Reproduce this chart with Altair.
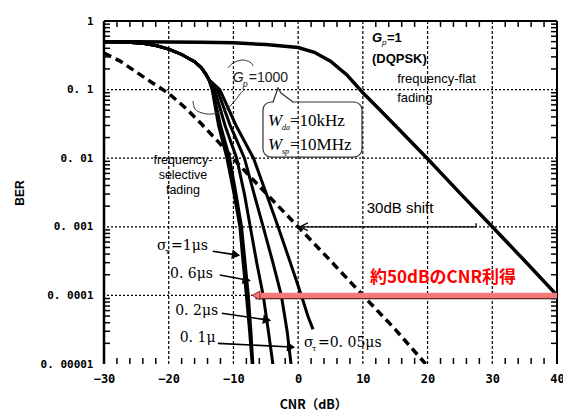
import altair as alt
import pandas as pd

# ---------------- data ----------------
# G_p = 1, frequency-flat fading (DQPSK)
flat_cnr = [-30, -25, -20, -15, -10, -5, 0, 2.5, 5, 7.5, 10, 12.5, 15, 20, 25, 30, 35, 40]
flat_ber = [0.5, 0.5, 0.495, 0.49, 0.48, 0.455, 0.41, 0.35, 0.26, 0.165, 0.09, 0.052, 0.03,
            0.0098, 0.0031, 0.001, 0.00032, 0.0001]

# G_p = 1000, frequency-flat fading (30 dB shifted, dashed)
shift_cnr = [-30, -27.5, -25, -22.5, -20, -17.5, -15, -12.5, -10, -5, 0, 5, 10, 15, 19.7]
shift_ber = [0.34, 0.26, 0.18, 0.125, 0.088, 0.055, 0.032, 0.018, 0.0098, 0.0031, 0.001,
             0.00032, 0.0001, 0.000032, 0.00001]

# G_p = 1000, frequency-selective fading: common upper part
shared_cnr = [-30, -27, -24, -22, -20, -18, -16, -15, -14.3, -13.8]
shared_ber = [0.5, 0.495, 0.475, 0.44, 0.39, 0.325, 0.255, 0.21, 0.17, 0.14]

sel_names = ["1μs", "0.6μs", "0.2μs", "0.1μs", "0.05μs"]
s1_cnr = [-13.3, -12.3, -11.0, -9.9, -9.0, -8.5, -8.0, -7.5, -7.1]
s1_ber = [0.1, 0.03, 0.01, 0.003, 0.001, 0.0003, 0.0001, 0.00003, 0.00001]
s2_cnr = [-13.2, -12.0, -10.6, -9.6, -8.75, -8.2, -7.7, -7.3, -7.0]
s2_ber = [0.1, 0.03, 0.01, 0.003, 0.001, 0.0003, 0.0001, 0.00003, 0.00001]
s3_cnr = [-12.9, -11.3, -9.5, -8.3, -7.4, -6.4, -5.4, -4.6, -3.9]
s3_ber = [0.1, 0.03, 0.01, 0.003, 0.001, 0.0003, 0.0001, 0.00003, 0.00001]
s4_cnr = [-12.5, -10.5, -8.3, -6.8, -5.4, -3.9, -2.6, -1.7, -1.1]
s4_ber = [0.1, 0.03, 0.01, 0.003, 0.001, 0.0003, 0.0001, 0.00003, 0.00001]
s5_cnr = [-12.1, -9.6, -6.9, -4.9, -3.1, -1.2, 0.5, 1.5, 2.3]
s5_ber = [0.1, 0.03, 0.01, 0.003, 0.001, 0.0003, 0.0001, 0.00005, 0.000032]

x_ticks = [-30, -20, -10, 0, 10, 20, 30, 40]
y_ticks = [1, 0.1, 0.01, 0.001, 0.0001, 0.00001]
y_tick_labels = ["1", "0. 1", "0. 01", "0. 001", "0. 0001", "0. 00001"]
x_grid = [-20, -10, 0, 10, 20, 30]
y_grid = [0.1, 0.01, 0.001, 0.0001]
x_minor = [v for v in range(-28, 40, 2) if v % 10 != 0]
y_minor = [m * 10.0 ** e for e in range(-5, 0) for m in range(2, 10)]

# ---------------- layout / style ----------------
W, H = 453, 343
SANS = "Liberation Sans"
SERIF = "DejaVu Serif"
TIMES = "Liberation Serif"
MONO = "DejaVu Sans Mono"
CJK = "Noto Sans CJK JP"

XS = alt.Scale(domain=[-30, 40], nice=False, zero=False)
YS = alt.Scale(type="log", domain=[0.00001, 1], nice=False)

label_expr = "[" + ",".join(f"'{s}'" for s in y_tick_labels) + "][round(-log(datum.value)/LN10)]"
XAXIS = alt.Axis(values=x_ticks, grid=False, ticks=False, domain=False, labelFlush=False,
                 labelFont=MONO, labelFontWeight="bold", labelFontSize=12, labelPadding=9,
                 labelColor="black", title="CNR（dB）", titleFont=CJK, titleFontWeight="bold",
                 titleFontSize=12.5, titleX=209, titleY=40, titleBaseline="middle", titleColor="black")
YAXIS = alt.Axis(values=y_ticks, grid=False, ticks=False, domain=False, labelFlush=False,
                 labelExpr=label_expr, labelFont=MONO, labelFontWeight="bold", labelFontSize=11,
                 labelPadding=11, labelColor="black", title="BER", titleFont=SANS,
                 titleFontWeight="bold", titleFontSize=12, titlePadding=14, titleColor="black")


def xe(f="x"):
    return alt.X(f"{f}:Q", scale=XS, axis=XAXIS, title="CNR（dB）")


def ye(f="y"):
    return alt.Y(f"{f}:Q", scale=YS, axis=YAXIS, title="BER")


def one(x, y, **extra):
    d = {"x": [x], "y": [y]}
    d.update({k: [v] for k, v in extra.items()})
    return pd.DataFrame(d)


def text(x, y, s, **kw):
    return alt.Chart(one(x, y, t=s)).mark_text(**kw).encode(x=xe(), y=ye(), text="t:N")


def path(xs, ys, **kw):
    df = pd.DataFrame({"x": xs, "y": ys, "i": list(range(len(xs)))})
    return alt.Chart(df).mark_line(**kw).encode(x=xe(), y=ye(), order="i:Q")


layers = []

# grid
layers.append(alt.Chart(pd.DataFrame({"x": x_grid})).mark_rule(
    color="black", strokeWidth=1.2, strokeDash=[3, 2]).encode(x=xe()))
layers.append(alt.Chart(pd.DataFrame({"y": y_grid})).mark_rule(
    color="black", strokeWidth=1.2, strokeDash=[2, 2]).encode(y=ye()))

# minor ticks (inward)
xm = pd.DataFrame({"x": x_minor})
layers.append(alt.Chart(xm).mark_rule(color="black", strokeWidth=1.5).encode(
    x=xe(), y=alt.value(H), y2=alt.value(H - 6)))
layers.append(alt.Chart(xm).mark_rule(color="black", strokeWidth=1.5).encode(
    x=xe(), y=alt.value(0), y2=alt.value(6)))
ym = pd.DataFrame({"y": y_minor})
layers.append(alt.Chart(ym).mark_rule(color="black", strokeWidth=1.5).encode(
    y=ye(), x=alt.value(0), x2=alt.value(6)))
layers.append(alt.Chart(ym).mark_rule(color="black", strokeWidth=1.5).encode(
    y=ye(), x=alt.value(W), x2=alt.value(W - 6)))

# frame (left, top, right)
frame = pd.DataFrame({"k": [0]})
layers.append(alt.Chart(frame).mark_rule(color="black", strokeWidth=2.5).encode(
    x=alt.value(0), y=alt.value(0), y2=alt.value(H)))
layers.append(alt.Chart(frame).mark_rule(color="black", strokeWidth=2).encode(
    y=alt.value(0), x=alt.value(0), x2=alt.value(W)))
layers.append(alt.Chart(frame).mark_rule(color="black", strokeWidth=2).encode(
    x=alt.value(W), y=alt.value(0), y2=alt.value(H)))

# curves
layers.append(path(flat_cnr, flat_ber, color="black", strokeWidth=3.5, clip=True))
layers.append(path(shift_cnr, shift_ber, color="black", strokeWidth=3.5, strokeDash=[8, 5], clip=True))

rows = []
for name, cx, cy in zip(sel_names, [s1_cnr, s2_cnr, s3_cnr, s4_cnr, s5_cnr],
                        [s1_ber, s2_ber, s3_ber, s4_ber, s5_ber]):
    xs = shared_cnr + cx
    ys = shared_ber + cy
    for i, (a, b) in enumerate(zip(xs, ys)):
        rows.append({"s": name, "x": a, "y": b, "i": i})
sel = pd.DataFrame(rows)
layers.append(alt.Chart(sel).mark_line(color="black", strokeWidth=3, clip=True).encode(
    x=xe(), y=ye(), detail="s:N", order="i:Q"))

# ---------------- annotations ----------------
# G_p = 1 (DQPSK) / frequency-flat fading
layers.append(text(11.4, 0.565, "G", font=SANS, fontSize=13, fontWeight="bold", fontStyle="italic",
                   align="left", baseline="middle", color="black"))
layers.append(text(11.4, 0.565, "p", font=SANS, fontSize=8, fontStyle="italic", align="left",
                   baseline="middle", dx=10, dy=5, color="black"))
layers.append(text(11.4, 0.565, "=1", font=SANS, fontSize=13, fontWeight="bold", align="left",
                   baseline="middle", dx=15, color="black"))
layers.append(text(11.4, 0.28, "(DQPSK)", font=SANS, fontSize=13, fontWeight="bold", align="left",
                   baseline="middle", color="black"))
layers.append(text(15.3, 0.143, "frequency-flat", font=SANS, fontSize=13, align="left",
                   baseline="middle", color="black"))
layers.append(text(15.3, 0.0755, "fading", font=SANS, fontSize=13, align="left",
                   baseline="middle", color="black"))

# G_p = 1000 callout
layers.append(text(-10.1, 0.148, "G", font=SANS, fontSize=14, fontStyle="italic", align="left",
                   baseline="middle", color="#222"))
layers.append(text(-10.1, 0.148, "p", font=SANS, fontSize=9, fontStyle="italic", align="left",
                   baseline="middle", dx=10, dy=6, color="#222"))
layers.append(text(-10.1, 0.148, "=1000", font=SANS, fontSize=14, align="left",
                   baseline="middle", dx=16, color="#222"))
layers.append(path([-10.84, -10.07, -8.67, -7.44, -6.97], [0.2065, 0.244, 0.27, 0.252, 0.221],
                   color="#333", strokeWidth=1, interpolate="cardinal"))
layers.append(path([-16.25, -15.94, -14.86, -13.31, -11.61, -10.22, -8.98, -8.37],
                   [0.0682, 0.0521, 0.0456, 0.0441, 0.0488, 0.0617, 0.0863, 0.0987],
                   color="#333", strokeWidth=1, interpolate="cardinal"))

# bandwidth box
layers.append(alt.Chart(one(-5.43, 0.066, x2=9.87, y2=0.0104)).mark_rect(
    fill="white", fillOpacity=0, stroke="#333", strokeWidth=1.2, cornerRadius=8).encode(
    x=xe(), x2="x2:Q", y=ye(), y2="y2:Q"))
layers.append(alt.Chart(one(-3.75, 0.066, x2=-0.9)).mark_rule(color="white", strokeWidth=2.5).encode(
    x=xe(), x2="x2:Q", y=ye()))
layers.append(path([-3.88, -3.11, -2.65, -0.79], [0.066, 0.1055, 0.0892, 0.066],
                   color="#333", strokeWidth=1.2))
for yy, sub, rest in [(0.0348, "da", "=10kHz"), (0.0156, "sp", "=10MHz")]:
    layers.append(text(-4.66, yy, "W", font=TIMES, fontSize=17, fontStyle="italic", align="left",
                       baseline="middle", color="black"))
    layers.append(text(-4.66, yy, sub, font=TIMES, fontSize=8, fontStyle="italic", align="left",
                       baseline="middle", dx=14, dy=7, color="black"))
    layers.append(text(-4.66, yy, rest, font=TIMES, fontSize=17, align="left",
                       baseline="middle", dx=22, color="black"))

# frequency-selective fading
for yy, s in [(0.0094, "frequency-"), (0.00569, "selective"), (0.00344, "fading")]:
    layers.append(text(-17.8, yy, s, font=SANS, fontSize=12.5, align="center",
                       baseline="middle", color="black"))

# 30 dB shift
layers.append(text(10.6, 0.00188, "30dB shift", font=SANS, fontSize=15, align="left",
                   baseline="middle", color="black"))
layers.append(alt.Chart(one(0.5, 0.001, x2=27.5)).mark_rule(color="black", strokeWidth=1.3).encode(
    x=xe(), x2="x2:Q", y=ye()))
layers.append(alt.Chart(one(27.5, 0.001, y2=0.00113)).mark_rule(color="black", strokeWidth=1.3).encode(
    x=xe(), y=ye(), y2="y2:Q"))
layers.append(alt.Chart(one(0.9, 0.001)).mark_point(
    shape="M1,-1L-1,0L1,1", filled=False, color="black", strokeWidth=1.3, size=60, opacity=1).encode(
    x=xe(), y=ye()))

# ~50 dB CNR gain (red arrow)
gain = one(-6.6, 0.0001, x2=40)
layers.append(alt.Chart(gain).mark_rule(color="#3a1010", strokeWidth=1.6, yOffset=3).encode(
    x=xe(), x2="x2:Q", y=ye()))
layers.append(alt.Chart(gain).mark_rule(color="#f47a7a", strokeWidth=5.5).encode(
    x=xe(), x2="x2:Q", y=ye()))
layers.append(alt.Chart(one(-6.5, 0.0001)).mark_point(
    shape="triangle-left", filled=True, fill="#f47a7a", stroke="#8b2b2b", strokeWidth=1,
    size=75, opacity=1).encode(x=xe(), y=ye()))
layers.append(text(11.1, 0.000179, "約50dBのCNR利得", font=CJK, fontSize=17, fontWeight="bold",
                   align="left", baseline="middle", color="#ff0000"))

# delay-spread labels and arrows
layers.append(text(-21.8, 0.000525, "σ", font=SERIF, fontSize=14, align="left", baseline="middle",
                   color="black"))
layers.append(text(-21.8, 0.000525, "τ", font=SERIF, fontSize=8, align="left", baseline="middle",
                   dx=8, dy=6, color="black"))
layers.append(text(-21.8, 0.000525, "=1μs", font=SERIF, fontSize=14, align="left",
                   baseline="middle", dx=14, color="black"))
layers.append(text(-19.8, 0.000205, "0. 6μs", font=SERIF, fontSize=14, align="left",
                   baseline="middle", color="black"))
layers.append(text(-19.0, 0.000059, "0. 2μs", font=SERIF, fontSize=14, align="left",
                   baseline="middle", color="black"))
layers.append(text(-18.3, 0.0000239, "0. 1μ", font=SERIF, fontSize=14, align="left",
                   baseline="middle", color="black"))
layers.append(text(0.9, 0.0000202, "σ", font=SERIF, fontSize=14, align="left", baseline="middle",
                   color="black"))
layers.append(text(0.9, 0.0000202, "τ", font=SERIF, fontSize=8, align="left", baseline="middle",
                   dx=8, dy=6, color="black"))
layers.append(text(0.9, 0.0000202, "=0. 05μs", font=SERIF, fontSize=14, align="left",
                   baseline="middle", dx=14, color="black"))

arrows = [(-13.2, 0.00044, -9.6, 0.00039, 9),
          (-12.1, 0.000198, -7.95, 0.000168, 10),
          (-11.8, 0.000055, -4.8, 0.000044, 9),
          (-12.4, 0.00002, -1.1, 0.0000177, 3)]
for k, (xa, ya, xb, yb, ang) in enumerate(arrows):
    layers.append(path([xa, xb], [ya, yb], color="black", strokeWidth=1.6))
    layers.append(alt.Chart(one(xb, yb, a=ang)).mark_point(
        shape="triangle-right", filled=True, color="black", size=90, opacity=1).encode(
        x=xe(), y=ye(), angle=alt.Angle("a:Q", scale=None)))

chart = alt.layer(*layers).properties(
    width=W, height=H,
    padding={"left": 104, "top": 21, "right": 6, "bottom": 50},
    autosize="none",
    background="white",
).configure_view(stroke=None)

chart.save("out.html", embed_options={"renderer": "svg", "actions": False})
